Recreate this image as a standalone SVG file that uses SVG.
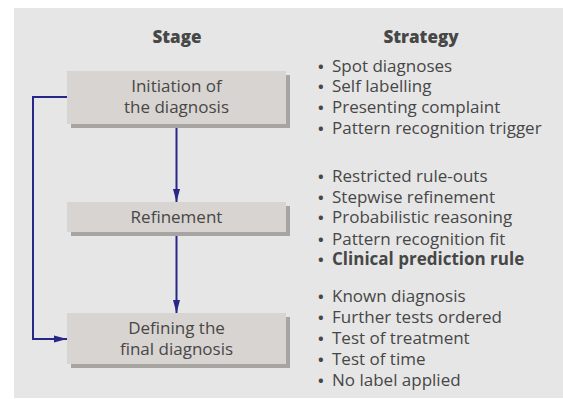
<svg xmlns="http://www.w3.org/2000/svg" width="563" height="399" viewBox="0 0 563 399">
<defs>
<style>
.t{font-family:"Open Sans","Noto Sans","Liberation Sans",sans-serif;font-size:17px;fill:#474747}
.h{font-weight:800;font-size:17px}
.c{text-anchor:middle}
.b{font-size:15px;font-weight:bold}
.box{fill:#d8d4d1}
.sh{fill:#a8a4a2}
.ln{fill:none;stroke:#27278a;stroke-width:2}
</style>
<marker id="ah" markerUnits="userSpaceOnUse" markerWidth="14" markerHeight="8" refX="13" refY="4" orient="auto">
<path d="M0,0.5 L13,4 L0,7.5 Z" fill="#27278a"/>
</marker>
</defs>
<rect x="0" y="0" width="563" height="399" fill="#ffffff"/>
<rect x="14" y="8" width="549" height="390" fill="#e6e6e6"/>
<text class="t h c" x="177" y="43">Stage</text>
<text class="t h c" x="421" y="43">Strategy</text>
<g id="connectors">
<path class="ln" d="M176.5,128 V202" marker-end="url(#ah)"/>
<path class="ln" d="M176.5,236 V313" marker-end="url(#ah)"/>
<path class="ln" d="M67,97 H33 V339 H67" marker-end="url(#ah)"/>
</g>
<g id="node-initiation">
<rect class="sh" x="71" y="75" width="219" height="53"/>
<rect class="box" x="67" y="71" width="219" height="53"/>
<text class="t c" x="176.5" y="92">Initiation of</text>
<text class="t c" x="176.5" y="113">the diagnosis</text>
</g>
<g id="node-refinement">
<rect class="sh" x="71" y="206" width="219" height="30"/>
<rect class="box" x="67" y="202" width="219" height="30"/>
<text class="t c" x="176.5" y="223">Refinement</text>
</g>
<g id="node-defining">
<rect class="sh" x="71" y="317" width="219" height="51"/>
<rect class="box" x="67" y="313" width="219" height="51"/>
<text class="t c" x="176.5" y="334">Defining the</text>
<text class="t c" x="176.5" y="355">final diagnosis</text>
</g>
<g id="strategies" class="t">
<text x="318" y="72"><tspan class="b">•</tspan><tspan x="332">Spot diagnoses</tspan></text>
<text x="318" y="92"><tspan class="b">•</tspan><tspan x="332">Self labelling</tspan></text>
<text x="318" y="113"><tspan class="b">•</tspan><tspan x="332">Presenting complaint</tspan></text>
<text x="318" y="134"><tspan class="b">•</tspan><tspan x="332">Pattern recognition trigger</tspan></text>
<text x="318" y="182"><tspan class="b">•</tspan><tspan x="332">Restricted rule-outs</tspan></text>
<text x="318" y="203"><tspan class="b">•</tspan><tspan x="332">Stepwise refinement</tspan></text>
<text x="318" y="223"><tspan class="b">•</tspan><tspan x="332">Probabilistic reasoning</tspan></text>
<text x="318" y="245"><tspan class="b">•</tspan><tspan x="332">Pattern recognition fit</tspan></text>
<text x="318" y="265" font-weight="bold"><tspan class="b">•</tspan><tspan x="332">Clinical prediction rule</tspan></text>
<text x="318" y="302"><tspan class="b">•</tspan><tspan x="332">Known diagnosis</tspan></text>
<text x="318" y="323"><tspan class="b">•</tspan><tspan x="332">Further tests ordered</tspan></text>
<text x="318" y="344"><tspan class="b">•</tspan><tspan x="332">Test of treatment</tspan></text>
<text x="318" y="365"><tspan class="b">•</tspan><tspan x="332">Test of time</tspan></text>
<text x="318" y="386"><tspan class="b">•</tspan><tspan x="332">No label applied</tspan></text>
</g>
</svg>
